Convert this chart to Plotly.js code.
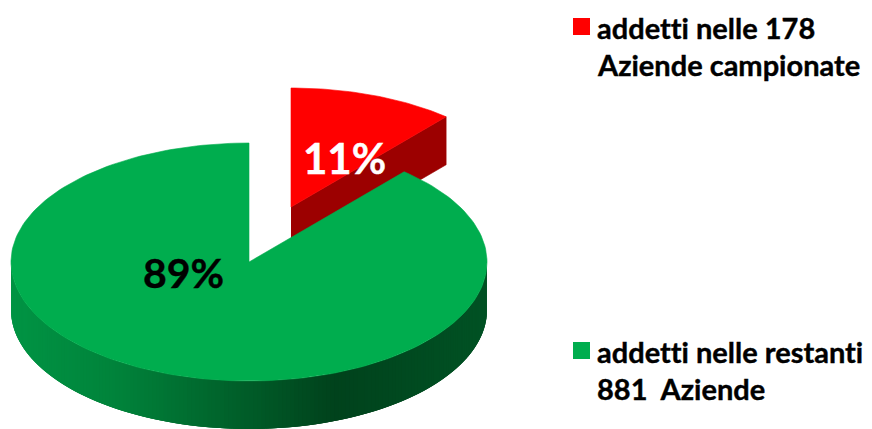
<!DOCTYPE html>
<html><head><meta charset="utf-8">
<script src="https://cdn.plot.ly/plotly-3.0.1.min.js"></script>
<style>html,body{margin:0;padding:0;background:#fff;overflow:hidden}#c{width:872px;height:429px}
.annotation-text{font-variant-ligatures:none;font-feature-settings:"liga" 0,"clig" 0}</style>
</head><body><div id="c"></div>
<script>
const categories = ["addetti nelle 178 Aziende campionate", "addetti nelle restanti 881 Aziende"];
const values = [11.3, 88.7];
const percentLabels = ["11%", "89%"];
const legendLines = [["addetti nelle 178", "Aziende campionate"], ["addetti nelle restanti", "881  Aziende"]];
const sliceColors = ["#ff0000", "#00ad4e"];

const RX = 238, RY = 119, DEPTH = 48;
const greenC = [249, 262], redC = [291, 207];
const FONT = "Lato, Carlito, Calibri, sans-serif";
const total = values[0] + values[1];
const cut = values[0] / total * 2 * Math.PI;
const pt = (c, a, d) => [c[0] + RX * Math.sin(a), c[1] - RY * Math.cos(a) + (d || 0)];

function poly(points, color, name, edge) {
  return {type: "scatter", mode: "lines", x: points.map(p => p[0]), y: points.map(p => p[1]),
    fill: "toself", fillcolor: color, line: {color: color, width: edge === undefined ? 0.6 : edge},
    hoverinfo: "skip", showlegend: false, name: name || ""};
}
function arc(c, a0, a1, n) {
  const out = [];
  for (let i = 0; i <= n; i++) out.push(pt(c, a0 + (a1 - a0) * i / n));
  return out;
}
const stops = [[11, [0, 148, 68]], [120, [0, 130, 58]], [335, [0, 66, 28]], [487, [0, 82, 36]]];
function shade(x) {
  for (let i = 1; i < stops.length; i++) {
    if (x <= stops[i][0]) {
      const t = (x - stops[i-1][0]) / (stops[i][0] - stops[i-1][0]);
      const m = stops[i-1][1].map((v, k) => Math.round(v + (stops[i][1][k] - v) * t));
      return `rgb(${m.join(",")})`;
    }
  }
  return "rgb(0,82,36)";
}

const traces = [];
// red slice: cut face, then top
traces.push(poly([redC, pt(redC, cut), pt(redC, cut, DEPTH), [redC[0], redC[1] + DEPTH]], "#9c0000"));
traces.push(poly([redC].concat(arc(redC, 0, cut, 40)).concat([redC]), sliceColors[0], categories[0]));
// green slice: rim painted right to left, each strip overlapping the next one
const N = 180;
for (let i = 0; i < N; i++) {
  const a0 = Math.PI / 2 + Math.PI * i / N;
  const aEnd = Math.min(a0 + 3 * Math.PI / N, 1.5 * Math.PI);
  const top = arc(greenC, a0, aEnd, 3);
  const bot = top.slice().reverse().map(p => [p[0], p[1] + DEPTH]);
  const mid = pt(greenC, a0 + Math.PI / (2 * N));
  traces.push(poly(top.concat(bot), shade(mid[0]), "", 0));
}
traces.push(poly([greenC].concat(arc(greenC, cut, 2 * Math.PI, 200)).concat([greenC]), sliceColors[1], categories[1]));
// legend squares
traces.push({type: "scatter", mode: "markers", x: [581.5, 581.5], y: [26.5, 350.5],
  marker: {symbol: "square", size: 17, color: sliceColors, line: {width: 0}},
  hoverinfo: "skip", showlegend: false});

const note = (x, y, text, size, color, anchor) => ({x, y, text, xref: "x", yref: "y", showarrow: false,
  xanchor: anchor || "left", yanchor: "middle", font: {family: FONT, size, color, weight: 700}});
const annotations = [
  note(344, 158, percentLabels[0], 42, "#ffffff", "center"),
  note(183, 272, percentLabels[1], 41, "#000000", "center"),
  note(595, 27, legendLines[0][0], 29, "#000000"),
  note(595, 64, legendLines[0][1], 29, "#000000"),
  note(595, 351, legendLines[1][0], 29, "#000000"),
  note(595, 388, legendLines[1][1], 29, "#000000")
];
Plotly.newPlot("c", traces, {
  width: 872, height: 429, margin: {l: 0, r: 0, t: 0, b: 0},
  paper_bgcolor: "#fff", plot_bgcolor: "#fff", showlegend: false,
  xaxis: {range: [0, 872], visible: false, fixedrange: true},
  yaxis: {range: [429, 0], visible: false, fixedrange: true},
  annotations
}, {displayModeBar: false, staticPlot: true}).then(() => {
  document.querySelectorAll(".annotation-text").forEach(t => {
    t.style.stroke = t.style.fill;
    t.style.strokeWidth = "0.4px";
  });
});
</script></body></html>
